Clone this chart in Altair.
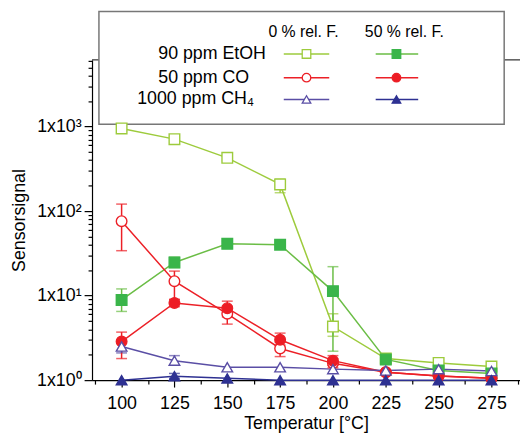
import altair as alt
import pandas as pd

# ---------------- data ----------------
temps = [100, 125, 150, 175, 200, 225, 250, 275]

series_keys = ["etoh0", "etoh50", "co0", "co50", "ch40", "ch450"]
gas_labels = ["90 ppm EtOH", "50 ppm CO", "1000 ppm CH₄"]
hum_labels = ["0 % rel. F.", "50 % rel. F."]

etoh_0 = [950, 710, 427, 207, 4.3, 1.8, 1.6, 1.45]
etoh_50 = [8.9, 24.7, 41, 40, 11.3, 1.76, 1.3, 1.2]
co_0 = [76, 14.8, 6.1, 2.37, 1.58, 1.24, 1.12, 1.05]
co_50 = [2.86, 8.2, 7.1, 3.0, 1.7, 1.24, 1.12, 1.05]
ch4_0 = [2.5, 1.7, 1.42, 1.42, 1.35, 1.3, 1.35, 1.28]
ch4_50 = [1.0, 1.11, 1.05, 1.0, 1.0, 1.0, 1.0, 1.0]

etoh_0_lo = [880, 650, 395, 165, 3.3, 1.65, None, None]
etoh_0_hi = [1020, 770, 460, 240, 6.1, 1.95, None, None]
etoh_50_lo = [6.5, 21.5, 38, 37, 2.2, 1.6, None, None]
etoh_50_hi = [12, 28.5, 44, 43, 22, 1.9, None, None]
co_0_lo = [34, 9, 4.6, 1.9, 1.4, None, None, None]
co_0_hi = [121, 19.5, 7.5, 2.8, 1.8, None, None, None]
co_50_lo = [1.8, 7.4, 5.6, 2.6, 1.5, None, None, None]
co_50_hi = [3.7, 9.0, 8.6, 3.6, 1.95, None, None, None]
ch4_0_lo = [2.1, 1.5, None, None, None, None, None, None]
ch4_0_hi = [2.9, 1.95, None, None, None, None, None, None]
ch4_50_lo = [None, 1.05, None, None, None, None, None, None]
ch4_50_hi = [None, 1.2, None, None, None, None, None, None]

vals = [etoh_0, etoh_50, co_0, co_50, ch4_0, ch4_50]
los = [etoh_0_lo, etoh_50_lo, co_0_lo, co_50_lo, ch4_0_lo, ch4_50_lo]
his = [etoh_0_hi, etoh_50_hi, co_0_hi, co_50_hi, ch4_0_hi, ch4_50_hi]

# ---------------- styles ----------------
line_colors = ["#9dcb3c", "#6abd45", "#ec2027", "#ec2027", "#5a4ea5", "#2e3192"]
mark_strokes = ["#9dcb3c", "#3ab54a", "#ec2027", "#ec2027", "#5a4ea5", "#2e3192"]
mark_fills = ["white", "#3ab54a", "white", "#ed1c24", "white", "#2e3192"]
shapes = ["square", "square", "circle", "circle", "triangle-up", "triangle-up"]

FONT = "Liberation Sans"
W, H = 433, 324

rows, err_rows = [], []
for k, v, lo, hi in zip(series_keys, vals, los, his):
    for t, y, a, b in zip(temps, v, lo, hi):
        rows.append({"series": k, "temp": t, "val": y})
        if a is not None:
            err_rows.append({"series": k, "temp": t, "lo": a, "hi": b})
df = pd.DataFrame(rows)
edf = pd.DataFrame(err_rows)

x_minor = [87.5 + 12.5 * i for i in range(17)]
y_ticks = [m * 10 ** e for e in range(4) for m in range(1, 10) if m * 10 ** e <= 6000]

xscale = alt.Scale(domain=[86, 288.5], nice=False, zero=False)
yscale = alt.Scale(type="log", domain=[1, 6150], nice=False)

xaxis = alt.Axis(
    values=x_minor, title="Temperatur [°C]", grid=False,
    labelExpr="datum.value % 25 == 0 ? datum.label : ''",
    tickSize={"condition": {"test": "datum.value % 25 == 0", "value": 7}, "value": 4},
    labelFont=FONT, titleFont=FONT, labelFontSize=18, titleFontSize=18,
    titleFontWeight="normal", labelColor="black", titleColor="black",
    domainColor="black", tickColor="black", labelPadding=8, titlePadding=2,
    labelFlush=False, labelOverlap=False, format="d",
)
yaxis = alt.Axis(
    values=y_ticks, title="Sensorsignal", grid=False,
    labelExpr="datum.value == 1 ? '1x10⁰' : datum.value == 10 ? '1x10¹' : datum.value == 100 ? '1x10²' : datum.value == 1000 ? '1x10³' : ''",
    tickSize={"condition": {"test": "indexof([1,10,100,1000], datum.value) >= 0", "value": 8}, "value": 4},
    labelFont=FONT, titleFont=FONT, labelFontSize=18, titleFontSize=18,
    titleFontWeight="normal", labelColor="black", titleColor="black",
    domainColor="black", tickColor="black", labelPadding=3, titlePadding=8,
    labelFlush=False, labelOverlap=False,
)

color_scale = alt.Scale(domain=series_keys, range=line_colors)

lines = alt.Chart(df).mark_line(strokeWidth=1.5).encode(
    x=alt.X("temp:Q", scale=xscale, axis=xaxis),
    y=alt.Y("val:Q", scale=yscale, axis=yaxis),
    color=alt.Color("series:N", scale=color_scale, legend=None),
    detail="series:N",
    order="temp:Q",
)

errs = alt.Chart(edf).mark_errorbar(ticks=True, size=11, thickness=1.5).encode(
    x=alt.X("temp:Q", scale=xscale, axis=xaxis),
    y=alt.Y("lo:Q", scale=yscale, axis=yaxis),
    y2="hi:Q",
    color=alt.Color("series:N", scale=color_scale, legend=None),
)

points = alt.Chart(df).mark_point(filled=True, size=115, strokeWidth=1.4, opacity=1).encode(
    x=alt.X("temp:Q", scale=xscale, axis=xaxis),
    y=alt.Y("val:Q", scale=yscale, axis=yaxis),
    shape=alt.Shape("series:N", scale=alt.Scale(domain=series_keys, range=shapes), legend=None),
    fill=alt.Fill("series:N", scale=alt.Scale(domain=series_keys, range=mark_fills), legend=None),
    stroke=alt.Stroke("series:N", scale=alt.Scale(domain=series_keys, range=mark_strokes), legend=None),
)

one = alt.Data(values=[{"a": 1}])

top_rule = alt.Chart(one).mark_rule(color="black", strokeWidth=1).encode(
    x=alt.value(0), x2=alt.value(W), y=alt.value(0)
)
legend_box = alt.Chart(one).mark_rect(fill="white", stroke="#777777", strokeWidth=1.5).encode(
    x=alt.value(7), x2=alt.value(417), y=alt.value(-49), y2=alt.value(65)
)

legend_layers = []
# headers
for lbl, hx in zip(hum_labels, [214, 316]):
    legend_layers.append(
        alt.Chart(one).mark_text(font=FONT, fontSize=16, align="center", baseline="middle", color="black", text=lbl)
        .encode(x=alt.value(hx), y=alt.value(-28))
    )
row_y = [-6, 18, 40]
label_x = [176, 159, 164]
for lbl, ry, lx in zip(gas_labels, row_y, label_x):
    legend_layers.append(
        alt.Chart(one).mark_text(font=FONT, fontSize=18, align="right", baseline="middle", color="black", text=lbl)
        .encode(x=alt.value(lx), y=alt.value(ry))
    )
col_x = [(194, 217, 240), (287, 308, 330)]
for i in range(6):
    r, c = i // 2, i % 2
    x1, xm, x2 = col_x[c]
    legend_layers.append(
        alt.Chart(one).mark_rule(color=line_colors[i], strokeWidth=1.5)
        .encode(x=alt.value(x1), x2=alt.value(x2), y=alt.value(row_y[r]))
    )
    legend_layers.append(
        alt.Chart(one).mark_point(shape=shapes[i], filled=True, fill=mark_fills[i], stroke=mark_strokes[i],
                                  strokeWidth=1.3, size=75, opacity=1)
        .encode(x=alt.value(xm), y=alt.value(row_y[r]))
    )

chart = alt.layer(top_rule, legend_box, lines, errs, points, *legend_layers).properties(
    width=W, height=H,
    autosize=alt.AutoSizeParams(type="none"),
    padding={"left": 85, "top": 50, "right": 0, "bottom": 53},
).configure_view(stroke=None).configure_axis(domainWidth=1.2, tickWidth=1.2)

chart.save("out.html", embed_options={"renderer": "svg", "actions": False})
